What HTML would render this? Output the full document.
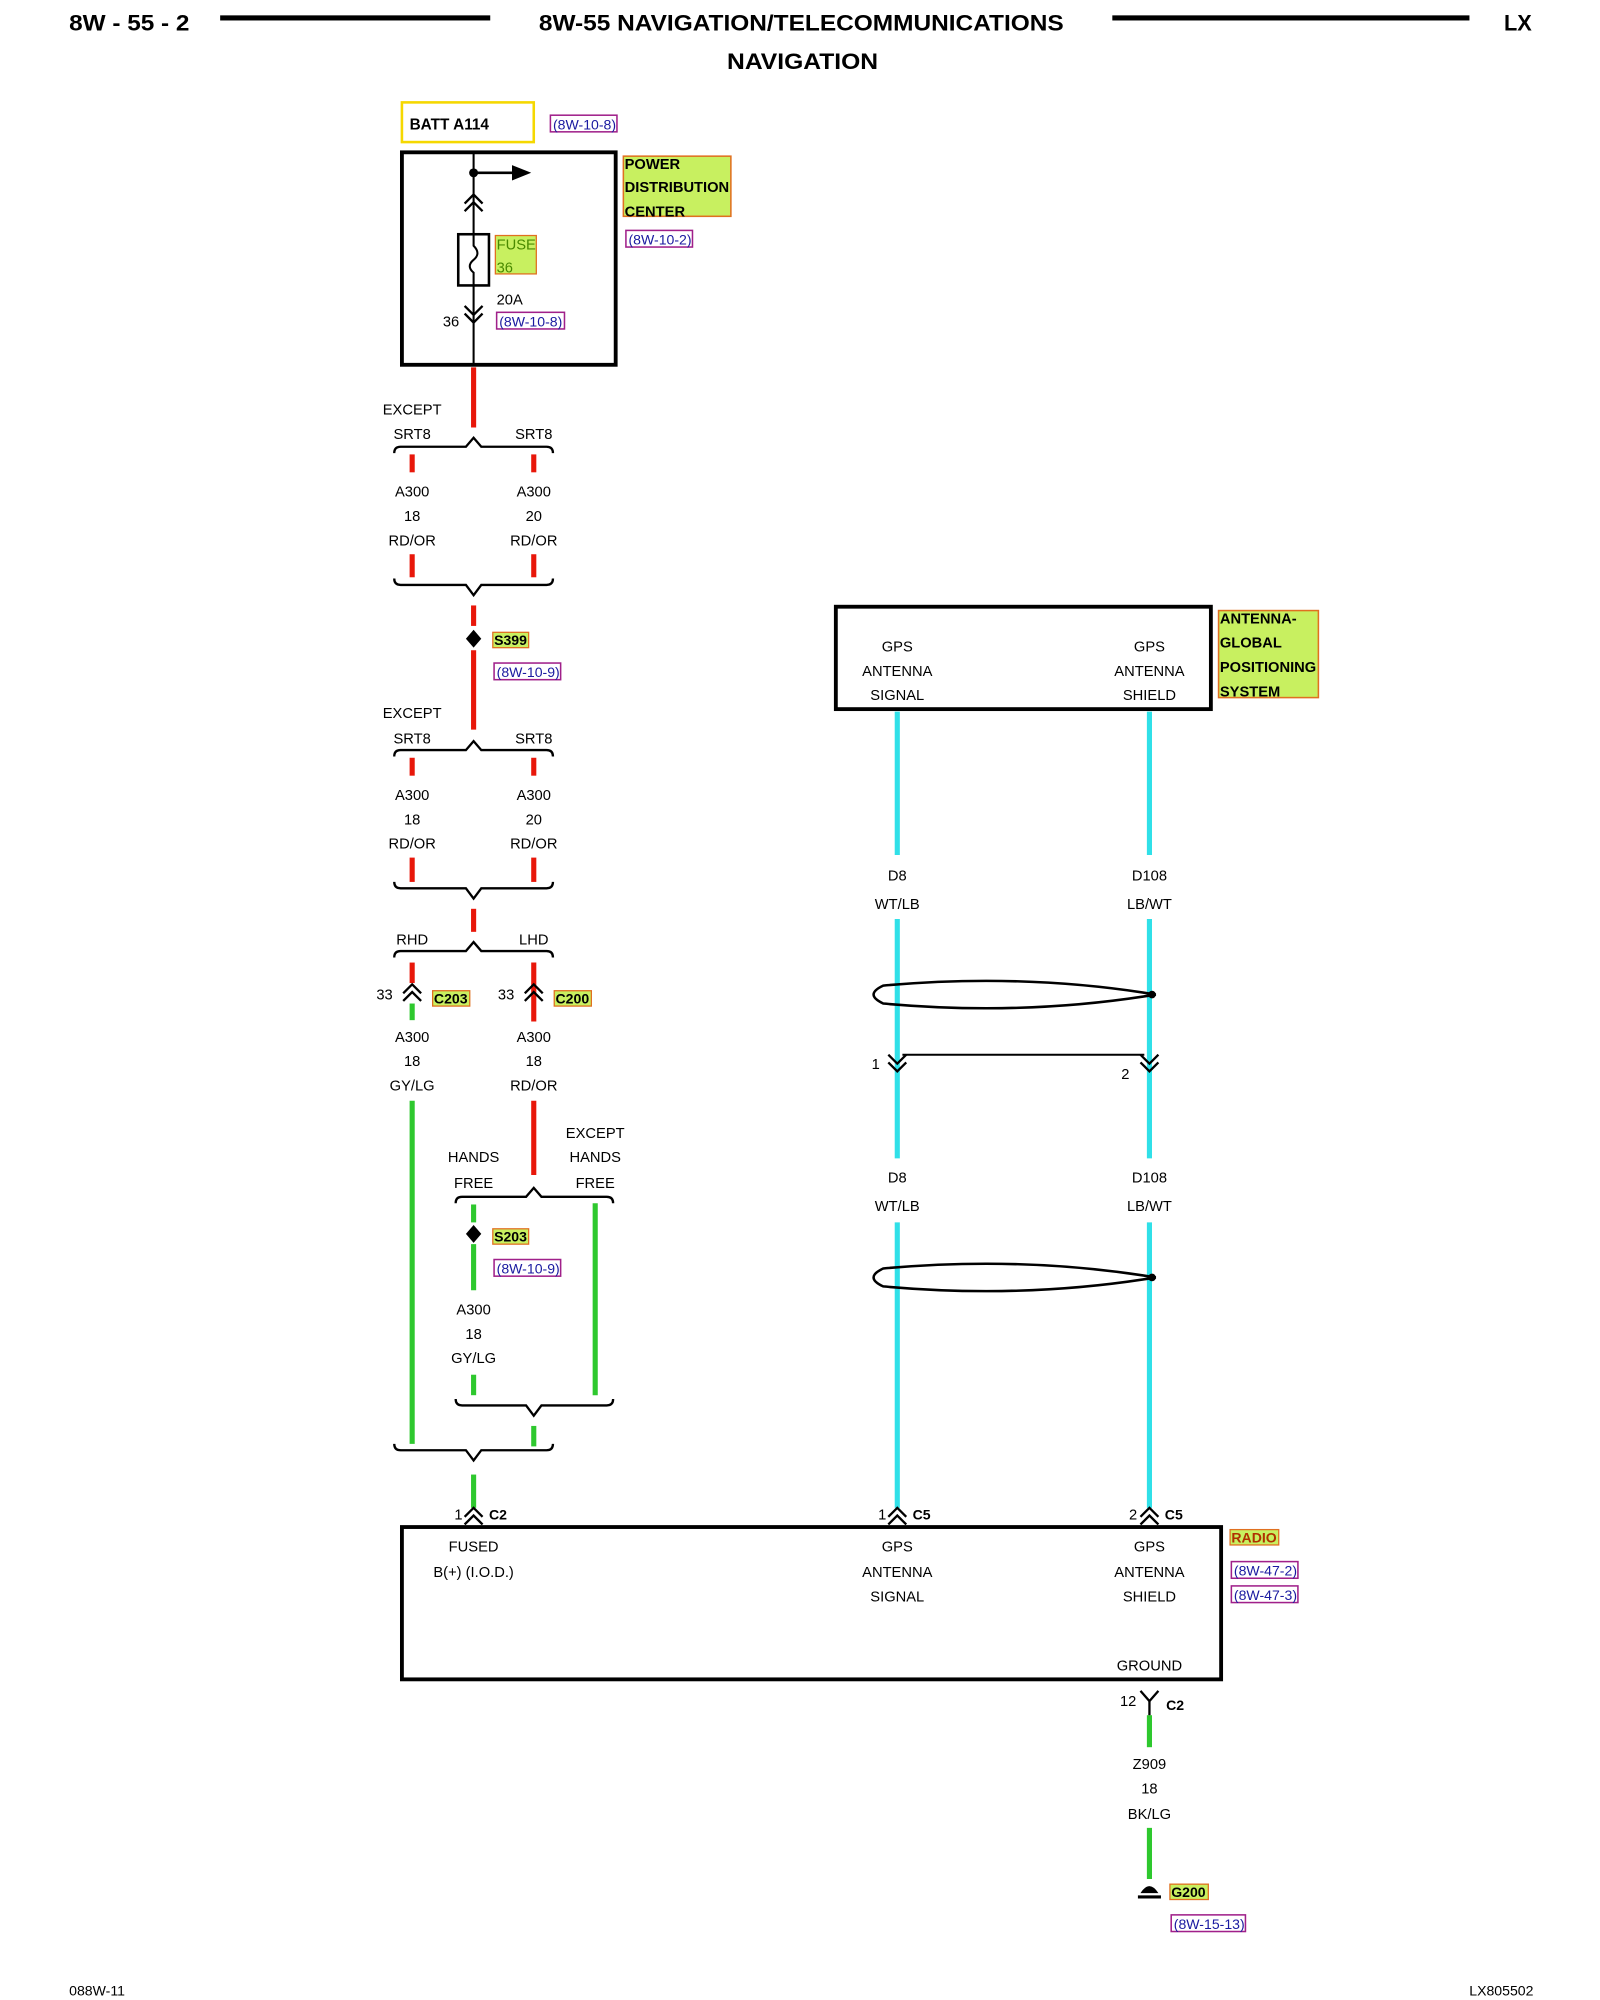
<!DOCTYPE html>
<html><head><meta charset="utf-8"><style>
html,body{margin:0;padding:0;background:#fff}
svg{display:block}
text{font-family:"Liberation Sans",Arial,sans-serif}
</style></head><body>
<svg width="1600" height="2000" viewBox="0 0 1250 1562.5" xmlns="http://www.w3.org/2000/svg">
<defs>
<g id="chu"><polyline points="-7,5 0,-2 7,5" fill="none" stroke="#000" stroke-width="1.8"/><polyline points="-7,11 0,4 7,11" fill="none" stroke="#000" stroke-width="1.8"/></g>
<g id="chd"><polyline points="-7,-5 0,2 7,-5" fill="none" stroke="#000" stroke-width="1.8"/><polyline points="-7,-11 0,-4 7,-11" fill="none" stroke="#000" stroke-width="1.8"/></g>
</defs>
<!-- header -->
<g font-weight="bold" font-size="17" fill="#000">
<text x="54" y="24" textLength="94" lengthAdjust="spacingAndGlyphs">8W - 55 - 2</text>
<text x="421" y="24" textLength="410" lengthAdjust="spacingAndGlyphs">8W-55 NAVIGATION/TELECOMMUNICATIONS</text>
<text x="1175" y="24">LX</text>
<text x="568" y="54" textLength="118" lengthAdjust="spacingAndGlyphs">NAVIGATION</text>
</g>
<rect x="172" y="12" width="211" height="4" fill="#000"/>
<rect x="869" y="12" width="279" height="4" fill="#000"/>

<g font-size="11.5" fill="#000">
<!-- BATT -->
<rect x="314" y="80" width="103" height="31" fill="none" stroke="#f5d800" stroke-width="2"/>
<text x="320" y="101" font-weight="bold" font-size="12">BATT A114</text>
<rect x="430" y="90" width="52" height="13" fill="none" stroke="#a0208a" stroke-width="1.2"/>
<text x="432" y="101" fill="#1a1aa0" font-size="11">(8W-10-8)</text>

<!-- PDC -->
<rect x="314" y="119" width="167" height="166" fill="none" stroke="#000" stroke-width="3"/>
<line x1="370" y1="119" x2="370" y2="285" stroke="#000" stroke-width="1.6"/>
<circle cx="370" cy="135" r="3.5"/>
<line x1="370" y1="135" x2="402" y2="135" stroke="#000" stroke-width="2"/>
<polygon points="400,129 415,135 400,141"/>
<use href="#chu" x="370" y="154"/>
<rect x="358" y="183" width="24" height="40" fill="#fff" stroke="#000" stroke-width="2"/>
<path d="M370,183 L370,192 Q376,198 370,203 Q364,208 370,213 L370,223" fill="none" stroke="#000" stroke-width="1.6"/>
<rect x="387" y="184" width="32" height="30" fill="#c8f060" stroke="#e07020" stroke-width="1"/>
<text x="388" y="195" fill="#4a8a00">FUSE</text>
<text x="388" y="213" fill="#4a8a00">36</text>
<text x="388" y="238">20A</text>
<text x="346" y="255">36</text>
<use href="#chd" x="370" y="250"/>
<rect x="388" y="244" width="53" height="13" fill="none" stroke="#a0208a" stroke-width="1.2"/>
<text x="390" y="255" fill="#1a1aa0" font-size="11">(8W-10-8)</text>
<rect x="487" y="122" width="84" height="47" fill="#c8f060" stroke="#e07020" stroke-width="1.2"/>
<g font-weight="bold" font-size="11.5"><text x="488" y="132">POWER</text><text x="488" y="150">DISTRIBUTION</text><text x="488" y="169">CENTER</text></g>
<rect x="489" y="180" width="52" height="13" fill="none" stroke="#a0208a" stroke-width="1.2"/>
<text x="491" y="191" fill="#1a1aa0" font-size="11">(8W-10-2)</text>

<!-- red wires -->
<g stroke="#e8170a" stroke-width="4" fill="none">
<line x1="370" y1="287" x2="370" y2="334"/>
<line x1="322" y1="355" x2="322" y2="369"/><line x1="417" y1="355" x2="417" y2="369"/>
<line x1="322" y1="433" x2="322" y2="451"/><line x1="417" y1="433" x2="417" y2="451"/>
<line x1="370" y1="473" x2="370" y2="489"/><line x1="370" y1="508" x2="370" y2="570"/>
<line x1="322" y1="592" x2="322" y2="606"/><line x1="417" y1="592" x2="417" y2="606"/>
<line x1="322" y1="670" x2="322" y2="689"/><line x1="417" y1="670" x2="417" y2="689"/>
<line x1="370" y1="710" x2="370" y2="728"/>
<line x1="322" y1="752" x2="322" y2="768"/><line x1="417" y1="752" x2="417" y2="798"/>
<line x1="417" y1="860" x2="417" y2="918"/>
</g>
<g stroke="#2ec82e" stroke-width="4" fill="none">
<line x1="322" y1="784" x2="322" y2="797"/>
<line x1="322" y1="860" x2="322" y2="1128"/>
<line x1="370" y1="941" x2="370" y2="955"/><line x1="370" y1="972" x2="370" y2="1008"/>
<line x1="465" y1="940" x2="465" y2="1090"/>
<line x1="370" y1="1074" x2="370" y2="1090"/>
<line x1="417" y1="1114" x2="417" y2="1130"/>
<line x1="370" y1="1152" x2="370" y2="1178"/>
<line x1="898" y1="1340" x2="898" y2="1365"/>
<line x1="898" y1="1428" x2="898" y2="1468"/>
</g>

<!-- brackets -->
<g stroke="#000" stroke-width="1.8" fill="none">
<path d="M308,354 Q308,349 313,349 L364,349 L370,342 L376,349 L427,349 Q432,349 432,354"/>
<path d="M308,452 Q308,457 313,457 L364,457 L370,465 L376,457 L427,457 Q432,457 432,452"/>
<path d="M308,591 Q308,586 313,586 L364,586 L370,579 L376,586 L427,586 Q432,586 432,591"/>
<path d="M308,689 Q308,694 313,694 L364,694 L370,702 L376,694 L427,694 Q432,694 432,689"/>
<path d="M308,748 Q308,743 313,743 L364,743 L370,736 L376,743 L427,743 Q432,743 432,748"/>
<path d="M356,940 Q356,935 361,935 L411,935 L417,928 L423,935 L474,935 Q479,935 479,940"/>
<path d="M356,1093 Q356,1098 361,1098 L411,1098 L417,1106 L423,1098 L474,1098 Q479,1098 479,1093"/>
<path d="M308,1128 Q308,1133 313,1133 L364,1133 L370,1141 L376,1133 L427,1133 Q432,1133 432,1128"/>
</g>

<g text-anchor="middle">
<text x="322" y="324">EXCEPT</text>
<text x="322" y="343">SRT8</text><text x="417" y="343">SRT8</text>
<text x="322" y="388">A300</text><text x="322" y="407">18</text><text x="322" y="426">RD/OR</text>
<text x="417" y="388">A300</text><text x="417" y="407">20</text><text x="417" y="426">RD/OR</text>
<text x="322" y="561">EXCEPT</text>
<text x="322" y="581">SRT8</text><text x="417" y="581">SRT8</text>
<text x="322" y="625">A300</text><text x="322" y="644">18</text><text x="322" y="663">RD/OR</text>
<text x="417" y="625">A300</text><text x="417" y="644">20</text><text x="417" y="663">RD/OR</text>
<text x="322" y="738">RHD</text><text x="417" y="738">LHD</text>
<text x="322" y="814">A300</text><text x="322" y="833">18</text><text x="322" y="852">GY/LG</text>
<text x="417" y="814">A300</text><text x="417" y="833">18</text><text x="417" y="852">RD/OR</text>
<text x="370" y="908">HANDS</text><text x="370" y="928">FREE</text>
<text x="465" y="889">EXCEPT</text><text x="465" y="908">HANDS</text><text x="465" y="928">FREE</text>
<text x="370" y="1027">A300</text><text x="370" y="1046">18</text><text x="370" y="1065">GY/LG</text>
</g>

<!-- S399 -->
<polygon points="370,492 376,499 370,506 364,499"/>
<rect x="385" y="494" width="28" height="12" fill="#c8f060" stroke="#e07020"/>
<text x="386" y="504" font-weight="bold" font-size="11">S399</text>
<rect x="386" y="518" width="52" height="13" fill="none" stroke="#a0208a" stroke-width="1.2"/>
<text x="388" y="529" fill="#1a1aa0" font-size="11">(8W-10-9)</text>
<!-- C203 / C200 -->
<text x="294" y="781">33</text>
<use href="#chu" x="322" y="771"/>
<rect x="338" y="774" width="29" height="12" fill="#c8f060" stroke="#e07020"/>
<text x="339" y="784" font-weight="bold" font-size="11">C203</text>
<text x="389" y="781">33</text>
<use href="#chu" x="417" y="771"/>
<rect x="433" y="774" width="29" height="12" fill="#c8f060" stroke="#e07020"/>
<text x="434" y="784" font-weight="bold" font-size="11">C200</text>
<!-- S203 -->
<polygon points="370,957 376,964 370,971 364,964"/>
<rect x="385" y="960" width="28" height="12" fill="#c8f060" stroke="#e07020"/>
<text x="386" y="970" font-weight="bold" font-size="11">S203</text>
<rect x="386" y="984" width="52" height="13" fill="none" stroke="#a0208a" stroke-width="1.2"/>
<text x="388" y="995" fill="#1a1aa0" font-size="11">(8W-10-9)</text>

<!-- antenna -->
<rect x="653" y="474" width="293" height="80" fill="none" stroke="#000" stroke-width="3"/>
<g text-anchor="middle">
<text x="701" y="509">GPS</text><text x="701" y="528">ANTENNA</text><text x="701" y="547">SIGNAL</text>
<text x="898" y="509">GPS</text><text x="898" y="528">ANTENNA</text><text x="898" y="547">SHIELD</text>
</g>
<rect x="952" y="477" width="78" height="68" fill="#c8f060" stroke="#e07020" stroke-width="1.2"/>
<g font-weight="bold"><text x="953" y="487">ANTENNA-</text><text x="953" y="506">GLOBAL</text><text x="953" y="525">POSITIONING</text><text x="953" y="544">SYSTEM</text></g>
<g stroke="#30e0e8" stroke-width="4">
<line x1="701" y1="556" x2="701" y2="668"/><line x1="898" y1="556" x2="898" y2="668"/>
<line x1="701" y1="718" x2="701" y2="905"/><line x1="898" y1="718" x2="898" y2="905"/>
<line x1="701" y1="955" x2="701" y2="1178"/><line x1="898" y1="955" x2="898" y2="1178"/>
</g>
<g text-anchor="middle">
<text x="701" y="688">D8</text><text x="701" y="710">WT/LB</text>
<text x="898" y="688">D108</text><text x="898" y="710">LB/WT</text>
<text x="701" y="924">D8</text><text x="701" y="946">WT/LB</text>
<text x="898" y="924">D108</text><text x="898" y="946">LB/WT</text>
</g>
<g fill="none" stroke="#000" stroke-width="2">
<path d="M903,777 Q800,760 690,770 Q675,777 690,784 Q800,794 903,777 Z"/>
<path d="M903,998 Q800,981 690,991 Q675,998 690,1005 Q800,1015 903,998 Z"/>
<line x1="705" y1="824" x2="894" y2="824" stroke-width="1.6"/>
</g>
<circle cx="900" cy="777" r="3"/><circle cx="900" cy="998" r="3"/>
<use href="#chd" x="701" y="835"/><use href="#chd" x="898" y="835"/>
<text x="681" y="835">1</text><text x="876" y="843">2</text>

<!-- radio -->
<use href="#chu" x="370" y="1180"/><text x="355" y="1187">1</text><text x="382" y="1187" font-weight="bold" font-size="11">C2</text>
<use href="#chu" x="701" y="1180"/><text x="686" y="1187">1</text><text x="713" y="1187" font-weight="bold" font-size="11">C5</text>
<use href="#chu" x="898" y="1180"/><text x="882" y="1187">2</text><text x="910" y="1187" font-weight="bold" font-size="11">C5</text>
<rect x="314" y="1193" width="640" height="119" fill="none" stroke="#000" stroke-width="3"/>
<g text-anchor="middle">
<text x="370" y="1212">FUSED</text><text x="370" y="1232">B(+) (I.O.D.)</text>
<text x="701" y="1212">GPS</text><text x="701" y="1232">ANTENNA</text><text x="701" y="1251">SIGNAL</text>
<text x="898" y="1212">GPS</text><text x="898" y="1232">ANTENNA</text><text x="898" y="1251">SHIELD</text>
<text x="898" y="1305">GROUND</text>
<text x="898" y="1382">Z909</text><text x="898" y="1401">18</text><text x="898" y="1421">BK/LG</text>
</g>
<rect x="961" y="1195" width="38" height="12" fill="#c8f060" stroke="#e07020"/>
<text x="962" y="1205" font-weight="bold" font-size="11" fill="#b03000">RADIO</text>
<rect x="962" y="1220" width="52" height="13" fill="none" stroke="#a0208a" stroke-width="1.2"/>
<text x="964" y="1231" fill="#1a1aa0" font-size="11">(8W-47-2)</text>
<rect x="962" y="1239" width="52" height="13" fill="none" stroke="#a0208a" stroke-width="1.2"/>
<text x="964" y="1250" fill="#1a1aa0" font-size="11">(8W-47-3)</text>
<!-- ground -->
<g stroke="#000" stroke-width="1.8" fill="none">
<polyline points="891,1321 898,1329 905,1321"/>
<line x1="898" y1="1329" x2="898" y2="1340"/>
<line x1="889" y1="1482" x2="907" y2="1482" stroke-width="2.5"/>
</g>
<path d="M891,1479 Q898,1468 905,1479 Z"/>
<text x="875" y="1333">12</text>
<text x="911" y="1336" font-weight="bold" font-size="11">C2</text>
<rect x="914" y="1472" width="30" height="12" fill="#c8f060" stroke="#e07020"/>
<text x="915" y="1482" font-weight="bold" font-size="11">G200</text>
<rect x="915" y="1496" width="58" height="13" fill="none" stroke="#a0208a" stroke-width="1.2"/>
<text x="917" y="1507" fill="#1a1aa0" font-size="11">(8W-15-13)</text>

<text x="54" y="1559" font-size="11">088W-11</text>
<text x="1198" y="1559" font-size="11" text-anchor="end">LX805502</text>
</g>
</svg>
</body></html>
